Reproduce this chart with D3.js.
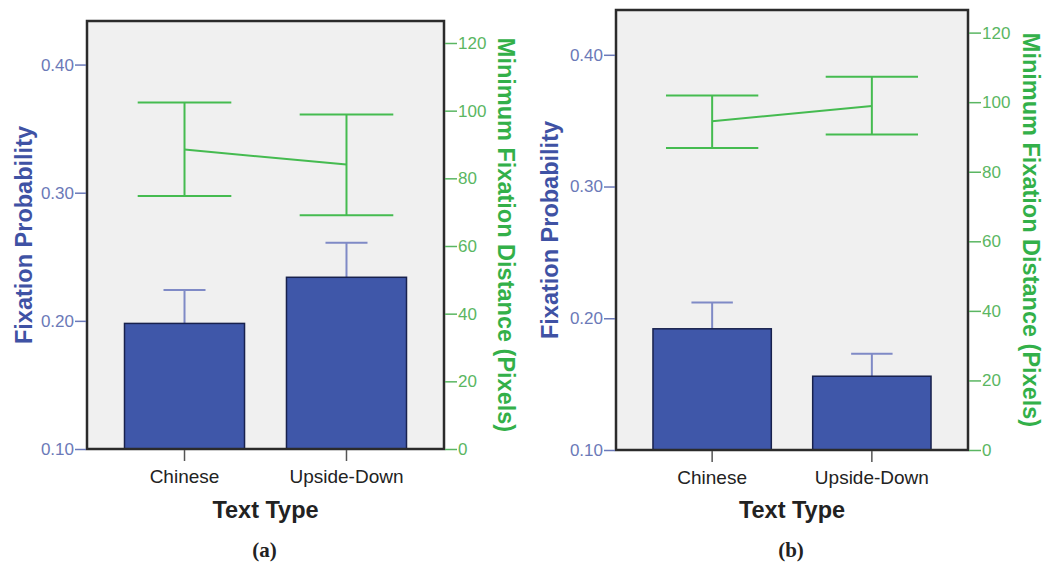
<!DOCTYPE html>
<html>
<head>
<meta charset="utf-8">
<script src="https://cdn.jsdelivr.net/npm/d3@7"></script>
<style>
  html, body { margin: 0; padding: 0; background: #ffffff; }
  svg { display: block; }
</style>
</head>
<body>
<svg id="chart" width="1044" height="566"></svg>
<script>
// ---------- DATA ----------
const categories = ["Chinese", "Upside-Down"];
const probTicks = [0.10, 0.20, 0.30, 0.40];
const distTicks = [0, 20, 40, 60, 80, 100, 120];
const panelLabels = ["(a)", "(b)"];
const xTitle = "Text Type";
const yLeftTitle = "Fixation Probability";
const yRightTitle = "Minimum Fixation Distance (Pixels)";

// panel (a)
const probMeanA = [0.198, 0.234];
const probUpperA = [0.224, 0.261];
const distMeanA = [88.5, 84.1];
const distLowA = [74.8, 69.1];
const distHighA = [102.4, 98.9];

// panel (b)
const probMeanB = [0.192, 0.156];
const probUpperB = [0.212, 0.173];
const distMeanB = [94.5, 98.9];
const distLowB = [86.8, 90.7];
const distHighB = [101.9, 107.3];

const probDomain = [0.10, 0.434];
const distDomain = [0, 126.5];

// ---------- STYLE ----------
const C = {
  plotBg: "#f0f0f0",
  frame: "#2b2b2b",
  bar: "#3f57a9",
  barStroke: "#18214d",
  barErr: "#7f8ac6",
  green: "#45bb50",
  blueTitle: "#3f52a4",
  blueTick: "#6b79b8",
  greenTitle: "#33b049",
  greenTick: "#5ab662",
  text: "#222222"
};
const sans = "'Liberation Sans', Arial, Helvetica, sans-serif";
const serif = "'Liberation Serif', 'Times New Roman', serif";

const svg = d3.select("#chart");

function drawPanel(cfg) {
  const { x0, x1, y0, y1, probMean, probUpper, distMean, distLow, distHigh, label, leftTitleX, rightTitleX } = cfg;
  const g = svg.append("g");

  const x = d3.scaleBand().domain(categories).range([x0, x1])
    .paddingInner(0.259).paddingOuter(0.2315);
  const yP = d3.scaleLinear().domain(probDomain).range([y1, y0]);
  const yD = d3.scaleLinear().domain(distDomain).range([y1, y0]);
  const bw = x.bandwidth();
  const cx = d => x(d) + bw / 2;

  // background
  g.append("rect").attr("x", x0).attr("y", y0).attr("width", x1 - x0).attr("height", y1 - y0)
    .attr("fill", C.plotBg);

  // bar error bars (upper)
  categories.forEach((c, i) => {
    g.append("line").attr("x1", cx(c)).attr("x2", cx(c))
      .attr("y1", yP(probMean[i])).attr("y2", yP(probUpper[i]))
      .attr("stroke", C.barErr).attr("stroke-width", 2);
    g.append("line").attr("x1", cx(c) - bw * 0.175).attr("x2", cx(c) + bw * 0.175)
      .attr("y1", yP(probUpper[i])).attr("y2", yP(probUpper[i]))
      .attr("stroke", C.barErr).attr("stroke-width", 2);
  });

  // bars
  g.selectAll("rect.bar").data(categories).enter().append("rect")
    .attr("class", "bar")
    .attr("x", d => x(d)).attr("width", bw)
    .attr("y", (d, i) => yP(probMean[i]))
    .attr("height", (d, i) => yP(probDomain[0]) - yP(probMean[i]))
    .attr("fill", C.bar).attr("stroke", C.barStroke).attr("stroke-width", 1.5);

  // green error bars + line
  categories.forEach((c, i) => {
    g.append("line").attr("x1", cx(c)).attr("x2", cx(c))
      .attr("y1", yD(distLow[i])).attr("y2", yD(distHigh[i]))
      .attr("stroke", C.green).attr("stroke-width", 2);
    [distLow[i], distHigh[i]].forEach(v => {
      g.append("line").attr("x1", cx(c) - bw * 0.39).attr("x2", cx(c) + bw * 0.39)
        .attr("y1", yD(v)).attr("y2", yD(v))
        .attr("stroke", C.green).attr("stroke-width", 2);
    });
  });
  g.append("path").datum(categories)
    .attr("d", d3.line().x(d => cx(d)).y((d, i) => yD(distMean[i])))
    .attr("fill", "none").attr("stroke", C.green).attr("stroke-width", 2);

  // frame
  g.append("rect").attr("x", x0).attr("y", y0).attr("width", x1 - x0).attr("height", y1 - y0)
    .attr("fill", "none").attr("stroke", C.frame).attr("stroke-width", 2.5);

  // left axis
  const la = g.append("g").attr("transform", `translate(${x0 - 1},0)`)
    .call(d3.axisLeft(yP).tickValues(probTicks).tickFormat(d3.format(".2f")).tickSize(11).tickPadding(1));
  la.select(".domain").remove();
  la.selectAll("line").attr("stroke", C.blueTick).attr("stroke-width", 1.5);
  la.selectAll("text").attr("fill", C.blueTick).style("font-family", sans).style("font-size", "17px");

  // right axis
  const ra = g.append("g").attr("transform", `translate(${x1 + 1},0)`)
    .call(d3.axisRight(yD).tickValues(distTicks).tickFormat(d3.format("d")).tickSize(12).tickPadding(1));
  ra.select(".domain").remove();
  ra.selectAll("line").attr("stroke", C.greenTick).attr("stroke-width", 1.5);
  ra.selectAll("text").attr("fill", C.greenTick).style("font-family", sans).style("font-size", "17px");

  // bottom axis
  const ba = g.append("g").attr("transform", `translate(0,${y1 + 1})`)
    .call(d3.axisBottom(x).tickSize(11).tickPadding(9));
  ba.select(".domain").remove();
  ba.selectAll("line").attr("stroke", "#555").attr("stroke-width", 1.5);
  ba.selectAll("text").attr("fill", C.text).style("font-family", sans).style("font-size", "19px");

  // titles
  const midX = (x0 + x1) / 2;
  const midY = (y0 + y1) / 2;
  g.append("text").attr("x", midX).attr("y", 518).attr("text-anchor", "middle")
    .style("font-family", sans).style("font-size", "23.5px").style("font-weight", "bold")
    .attr("fill", C.text).text(xTitle);
  g.append("text").attr("x", midX - 1).attr("y", 557).attr("text-anchor", "middle")
    .style("font-family", serif).style("font-size", "21px").style("font-weight", "bold")
    .attr("fill", C.text).text(label);
  g.append("text").attr("transform", `translate(${leftTitleX},${midY}) rotate(-90)`)
    .attr("text-anchor", "middle")
    .style("font-family", sans).style("font-size", "23.5px").style("font-weight", "bold")
    .attr("fill", C.blueTitle).text(yLeftTitle);
  g.append("text").attr("transform", `translate(${rightTitleX},${midY}) rotate(90)`)
    .attr("text-anchor", "middle")
    .style("font-family", sans).style("font-size", "23.5px").style("font-weight", "bold")
    .attr("fill", C.greenTitle).text(yRightTitle);
}

drawPanel({ x0: 87, x1: 444, y0: 21, y1: 449,
  probMean: probMeanA, probUpper: probUpperA,
  distMean: distMeanA, distLow: distLowA, distHigh: distHighA,
  label: panelLabels[0], leftTitleX: 32, rightTitleX: 498 });

drawPanel({ x0: 616, x1: 968, y0: 10, y1: 450,
  probMean: probMeanB, probUpper: probUpperB,
  distMean: distMeanB, distLow: distLowB, distHigh: distHighB,
  label: panelLabels[1], leftTitleX: 558, rightTitleX: 1023 });
</script>
</body>
</html>
